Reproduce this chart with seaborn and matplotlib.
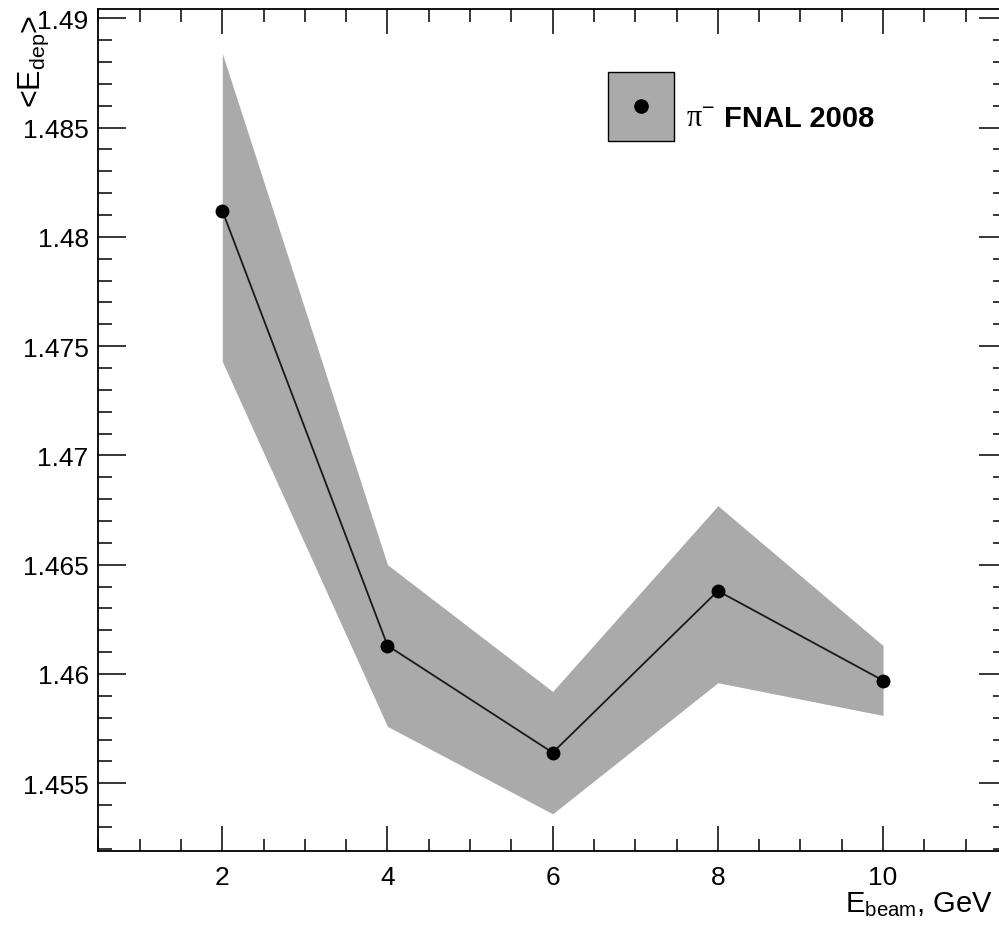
import matplotlib
matplotlib.use("Agg")
import matplotlib.pyplot as plt
from matplotlib.patches import Rectangle
from matplotlib.ticker import MultipleLocator, FixedLocator, FuncFormatter
import pandas as pd
import seaborn as sns

# Mean deposited energy vs beam energy, pi- FNAL 2008
energy = [2, 4, 6, 8, 10]
edep_mean = [1.4812, 1.4613, 1.4564, 1.4638, 1.4597]
band_upper = [1.4884, 1.4650, 1.4592, 1.4677, 1.4613]
band_lower = [1.4743, 1.4576, 1.4536, 1.4596, 1.4581]
ytick_values = [1.455, 1.46, 1.465, 1.47, 1.475, 1.48, 1.485, 1.49]
xtick_values = [2, 4, 6, 8, 10]

df = pd.DataFrame({"energy": energy, "mean": edep_mean,
                   "upper": band_upper, "lower": band_lower})

sns.set_style("ticks")
plt.rcParams["font.family"] = ["Liberation Sans", "DejaVu Sans"]
plt.rcParams["text.color"] = "black"
plt.rcParams["mathtext.fontset"] = "custom"
plt.rcParams["mathtext.rm"] = "Liberation Serif"
plt.rcParams["mathtext.sf"] = "Liberation Sans"
plt.rcParams["mathtext.it"] = "Liberation Sans:italic"
plt.rcParams["mathtext.bf"] = "Liberation Sans:bold"

fig = plt.figure(figsize=(9.99, 9.29), dpi=100)
ax = fig.add_axes([0.0985, 0.0829, 0.9095, 0.9064])

band_color = "#aaaaaa"
ax.fill_between(df["energy"], df["lower"], df["upper"],
                color=band_color, linewidth=0, zorder=1)
sns.lineplot(data=df, x="energy", y="mean", ax=ax, color="#1a1a1a",
             linewidth=1.3, zorder=2, legend=False)
sns.scatterplot(data=df, x="energy", y="mean", ax=ax, color="black",
                s=100, edgecolor="black", linewidth=0, zorder=3, legend=False)

ax.set_xlim(0.5, 11.5)
ax.set_ylim(1.4519, 1.49043)

ax.xaxis.set_major_locator(FixedLocator(xtick_values))
ax.xaxis.set_minor_locator(MultipleLocator(0.5))
ax.yaxis.set_major_locator(FixedLocator(ytick_values))
ax.yaxis.set_minor_locator(MultipleLocator(0.001))
ax.yaxis.set_major_formatter(FuncFormatter(lambda v, p: f"{v:g}"))
ax.xaxis.set_major_formatter(FuncFormatter(lambda v, p: f"{v:g}"))

ax.tick_params(which="both", direction="in", top=True, right=True,
               width=1.1, color="black", labelcolor="black", labelsize=19)
ax.tick_params(axis="x", which="major", length=18, pad=10)
ax.tick_params(axis="x", which="minor", length=9)
ax.tick_params(axis="y", which="major", length=20, pad=7)
ax.tick_params(axis="y", which="minor", length=10)
for sp in ax.spines.values():
    sp.set_linewidth(1.3)
    sp.set_color("black")

ax.set_xlabel("")
ax.set_ylabel("")
ax.text(0.984, -0.0715, r"$\mathsf{E_{beam}}$, GeV", transform=ax.transAxes,
        ha="right", va="baseline", fontsize=21)
ax.text(-0.0705, 0.994, r"<$\mathsf{E_{dep}}$>", transform=ax.transAxes,
        rotation=90, ha="center", va="top", fontsize=22)

# legend entry: band swatch with marker, followed by the label
ax.add_patch(Rectangle((0.5604, 0.8432), 0.0726, 0.082, transform=ax.transAxes,
                       facecolor=band_color, edgecolor="black", linewidth=1.0,
                       zorder=4, clip_on=False))
ax.plot([0.5967], [0.8842], transform=ax.transAxes, marker="o", color="black",
        markersize=9.5, linestyle="none", zorder=5)
ax.text(0.647, 0.8615, r"$\mathrm{\pi}^{\mathsf{-}}$", transform=ax.transAxes,
        ha="left", va="baseline", fontsize=22)
ax.text(0.689, 0.8615, "FNAL 2008", transform=ax.transAxes,
        ha="left", va="baseline", fontsize=21, fontweight="bold")

fig.savefig("out.png", dpi=100)
